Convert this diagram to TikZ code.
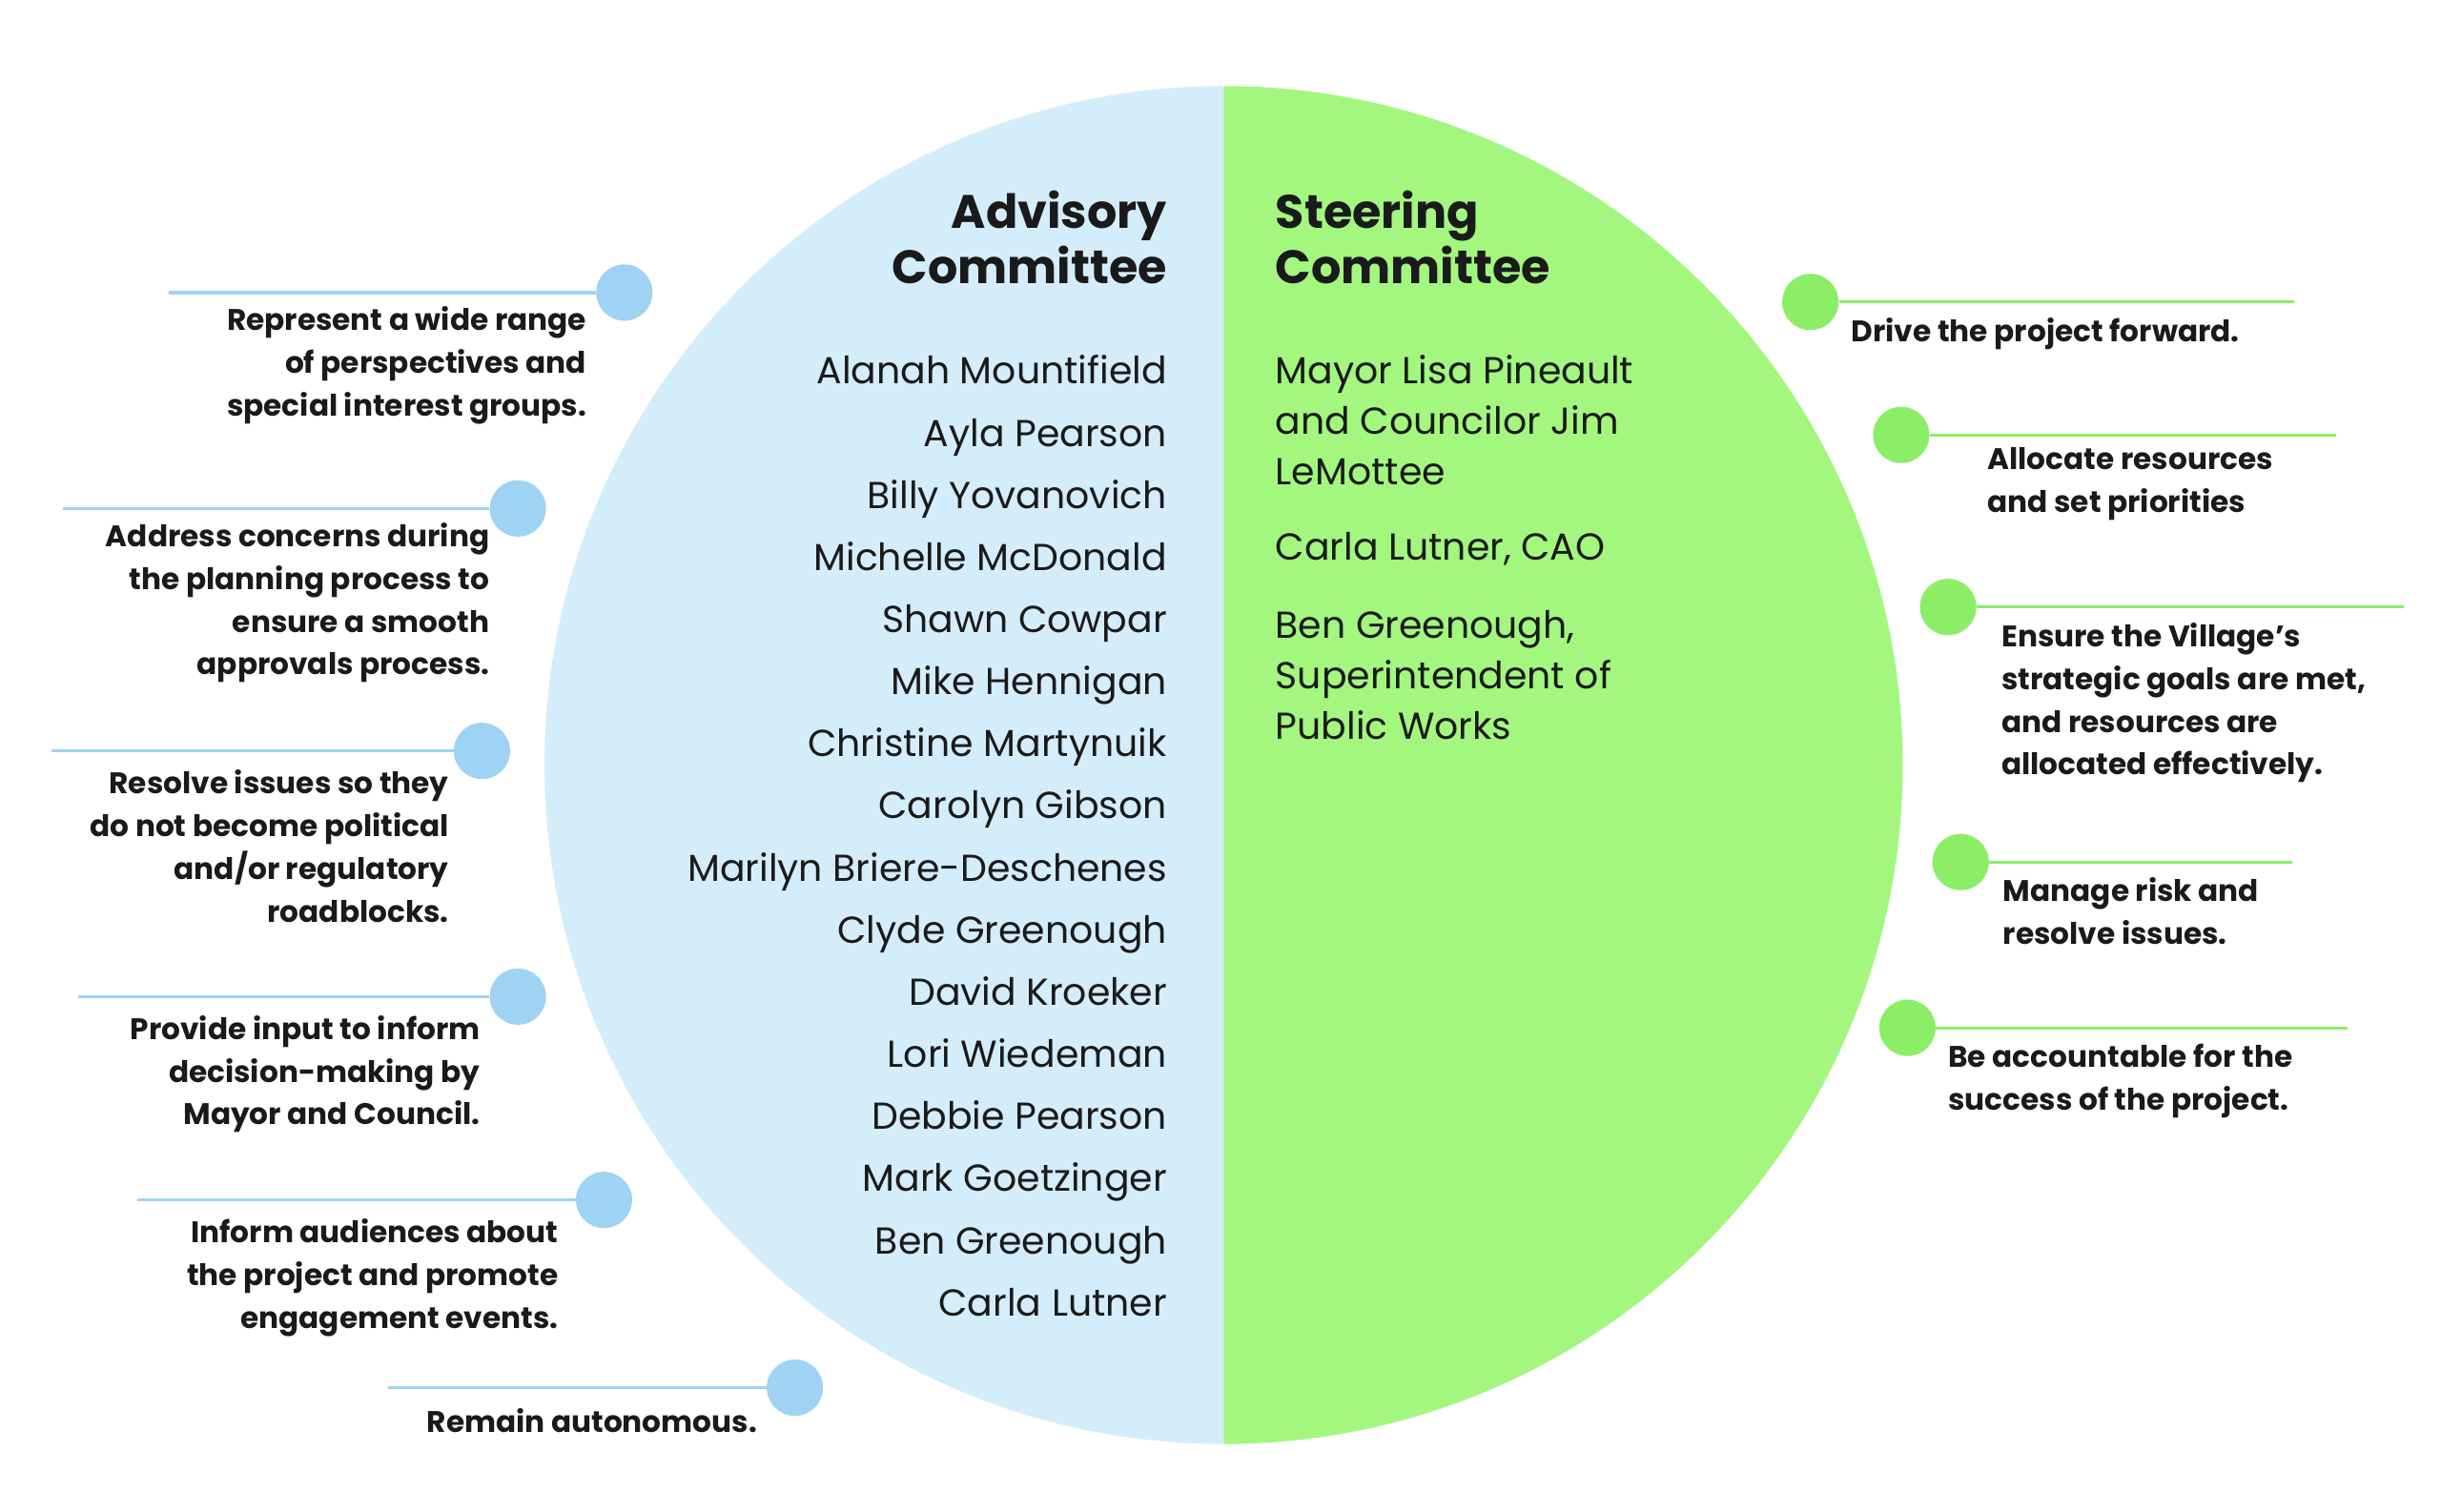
\documentclass[tikz,border=0pt]{standalone}
\usepackage{fontspec}
\setmainfont{Poppins}
\definecolor{advbg}{HTML}{D4EDFA}
\definecolor{stbg}{HTML}{A3F77F}
\definecolor{bdot}{HTML}{9FD3F3}
\definecolor{gdot}{HTML}{8BEE66}
\definecolor{ink}{HTML}{1A1A1A}
\begin{document}
\begin{tikzpicture}[x=1pt,y=-1pt,
  item/.style={font=\bfseries\fontsize{19}{27.3}\selectfont,text=ink,inner sep=0pt},
  lt/.style={item,align=right,anchor=north east},
  rt/.style={item,align=left,anchor=north west},
  names/.style={font=\fontsize{24}{39.7}\selectfont,text=ink,inner sep=0pt},
  ttl/.style={font=\bfseries\fontsize{30}{35}\selectfont,text=ink,inner sep=0pt},
  bl/.style={bdot,line width=2pt},
  gl/.style={gdot,line width=2pt},
  bd/.style={circle,fill=bdot,minimum size=36pt,inner sep=0pt},
  gd/.style={circle,fill=gdot,minimum size=36pt,inner sep=0pt}]
\useasboundingbox (0,0) rectangle (1560,966);
\fill[advbg] (782,55) arc[start angle=270,end angle=90,radius=434] -- cycle;
\fill[stbg] (782,55) arc[start angle=-90,end angle=90,radius=434] -- cycle;
% titles
\node[ttl,align=right,anchor=north east] (at) at (746,122) {Advisory\\Committee};
\node[ttl,align=left,anchor=north west] (st) at (815,122) {Steering\\Committee};
\node[names,align=right,anchor=north east] (an) at (746,227) {Alanah Mountifield\\Ayla Pearson\\Billy Yovanovich\\Michelle McDonald\\Shawn Cowpar\\Mike Hennigan\\Christine Martynuik\\Carolyn Gibson\\Marilyn Briere-Deschenes\\Clyde Greenough\\David Kroeker\\Lori Wiedeman\\Debbie Pearson\\Mark Goetzinger\\Ben Greenough\\Carla Lutner};
\node[names,align=left,anchor=north west,font=\fontsize{24}{32.3}\selectfont] (sn1) at (815,227) {Mayor Lisa Pineault\\and Councilor Jim\\LeMottee};
\node[names,anchor=north west] (sn2) at (815,340) {Carla Lutner, CAO};
\node[names,align=left,anchor=north west,font=\fontsize{24}{32.3}\selectfont] (sn3) at (815,390) {Ben Greenough,\\Superintendent of\\Public Works};
% left items
\coordinate (l1) at (108,187); \node[bd] (d1) at (399,187) {}; \draw[bl] (l1) -- (d1);
\node[lt] (t1) at (375,196) {Represent a wide range\\of perspectives and\\special interest groups.};
\coordinate (l2) at (40,325); \node[bd] (d2) at (331,325) {}; \draw[bl] (l2) -- (d2);
\node[lt] (t2) at (313,334) {Address concerns during\\the planning process to\\ensure a smooth\\approvals process.};
\coordinate (l3) at (33,480); \node[bd] (d3) at (308,480) {}; \draw[bl] (l3) -- (d3);
\node[lt] (t3) at (287,492) {Resolve issues so they\\do not become political\\and/or regulatory\\roadblocks.};
\coordinate (l4) at (50,637); \node[bd] (d4) at (331,637) {}; \draw[bl] (l4) -- (d4);
\node[lt] (t4) at (307,649) {Provide input to inform\\decision-making by\\Mayor and Council.};
\coordinate (l5) at (88,767); \node[bd] (d5) at (386,767) {}; \draw[bl] (l5) -- (d5);
\node[lt] (t5) at (357,779) {Inform audiences about\\the project and promote\\engagement events.};
\coordinate (l6) at (248,887); \node[bd] (d6) at (508,887) {}; \draw[bl] (l6) -- (d6);
\node[lt] (t6) at (484,900) {Remain autonomous.};
% right items
\coordinate (r1) at (1466,193); \node[gd] (g1) at (1157,193) {}; \draw[gl] (g1) -- (r1);
\node[rt] (u1) at (1183,203) {Drive the project forward.};
\coordinate (r2) at (1493,278); \node[gd] (g2) at (1215,278) {}; \draw[gl] (g2) -- (r2);
\node[rt] (u2) at (1270,286) {Allocate resources\\and set priorities};
\coordinate (r3) at (1536,388); \node[gd] (g3) at (1245,388) {}; \draw[gl] (g3) -- (r3);
\node[rt] (u3) at (1279,398) {Ensure the Village’s\\strategic goals are met,\\and resources are\\allocated effectively.};
\coordinate (r4) at (1465,551); \node[gd] (g4) at (1253,551) {}; \draw[gl] (g4) -- (r4);
\node[rt] (u4) at (1280,561) {Manage risk and\\resolve issues.};
\coordinate (r5) at (1500,657); \node[gd] (g5) at (1219,657) {}; \draw[gl] (g5) -- (r5);
\node[rt] (u5) at (1245,667) {Be accountable for the\\success of the project.};
\end{tikzpicture}
\end{document}
